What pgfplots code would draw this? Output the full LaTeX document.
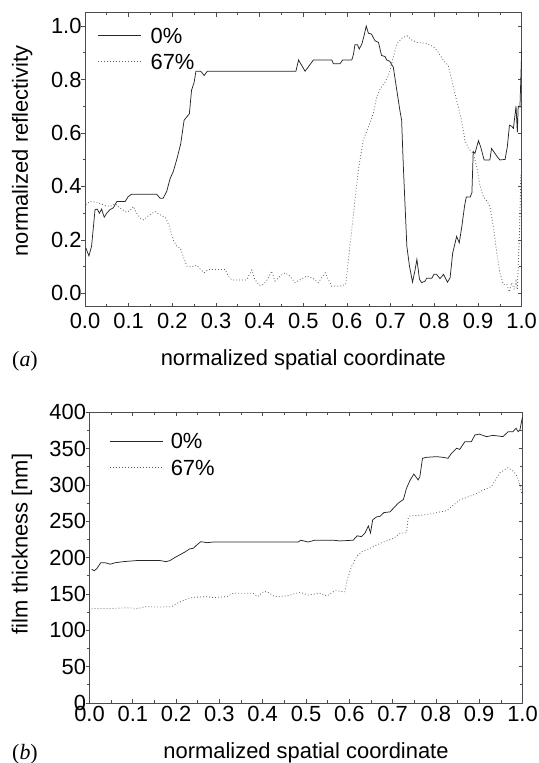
\documentclass[border=0pt]{standalone}
\usepackage{fontspec}
\setmainfont{Liberation Sans}
\newfontfamily\serifff{Liberation Serif}
\usepackage{pgfplots}
\pgfplotsset{compat=1.18}
\definecolor{axgray}{gray}{0.3}
\definecolor{dotgray}{gray}{0.35}
\newcommand{\bigf}{\fontsize{22}{26}\selectfont}
\pgfplotsset{
  myaxis/.style={
    scale only axis,
    xmin=0, xmax=1,
    xtick={0,0.1,...,1.0},
    minor x tick num=1,
    tick align=inside,
    xtick pos=both,
    ytick pos=right,
    yticklabel pos=left,
    axis line style={axgray, line width=0.8pt},
    every tick/.style={axgray, line width=0.7pt},
    major tick length=4bp,
    minor tick length=2.5bp,
    tick label style={font=\bigf},
    label style={font=\bigf},
    /pgf/number format/assume math mode=true,
    xticklabel={\pgfmathprintnumber[fixed,fixed zerofill,precision=1]{\tick}},
    legend style={draw=none, fill=none, font=\bigf, column sep=9bp, row sep=10bp,
      nodes={inner sep=0pt, text height=15.5bp, text depth=0bp}},
    legend cell align=left,
    legend image code/.code={\draw[##1] (0bp,0bp) -- (43bp,0bp);},
  },
  ovaxis/.style={
    scale only axis,
    xmin=0, xmax=1,
    xtick=\empty,
    ytick pos=left,
    tick align=outside,
    yticklabels={},
    axis line style={draw=none},
    every tick/.style={axgray, line width=0.7pt},
    major tick length=4bp,
    minor tick length=2.5bp,
  },
  solidl/.style={black!85, line width=0.75pt},
  dotl/.style={dotgray, line width=0.8pt, dash pattern=on 0.8bp off 2.2bp},
}
\begin{document}
\begin{tikzpicture}
\useasboundingbox (0,0) rectangle (539bp,763bp);
% ---------- top panel ----------
\begin{axis}[myaxis,
  at={(85bp,456.3bp)}, anchor=south west,
  width=436.7bp, height=294bp,
  ymin=-0.05, ymax=1.05,
  ytick={0,0.2,...,1.0}, minor y tick num=1,
  yticklabel={\pgfmathprintnumber[fixed,fixed zerofill,precision=1]{\tick}},
  xticklabel style={yshift=-3bp},
  xlabel={normalized spatial coordinate},
  ylabel={normalized reflectivity},
  xlabel style={at={(axis description cs:0.5,-0.18)}, anchor=center},
  ylabel style={at={(axis description cs:-0.144,0.53)}, anchor=center},
  legend style={at={(axis description cs:0.022,0.955)}, anchor=north west},
]
\addplot[solidl] coordinates {
(0.002,0.17) (0.009,0.14) (0.015,0.176) (0.023,0.313) (0.028,0.315) (0.033,0.30)
(0.038,0.315) (0.044,0.285) (0.05,0.30) (0.057,0.313) (0.065,0.32) (0.073,0.344)
(0.092,0.344) (0.099,0.362) (0.107,0.371) (0.164,0.371) (0.172,0.356) (0.179,0.356)
(0.187,0.381) (0.195,0.43) (0.202,0.455) (0.21,0.5) (0.219,0.558) (0.227,0.648)
(0.233,0.66) (0.239,0.672) (0.244,0.76) (0.25,0.79) (0.254,0.831) (0.265,0.831)
(0.273,0.815) (0.28,0.831) (0.483,0.831) (0.489,0.873) (0.504,0.831) (0.523,0.873)
(0.565,0.873) (0.569,0.859) (0.584,0.859) (0.59,0.873) (0.611,0.873) (0.615,0.896)
(0.618,0.93) (0.624,0.93) (0.628,0.914) (0.634,0.933) (0.639,0.964) (0.644,1.0)
(0.649,0.973) (0.656,0.97) (0.664,0.945) (0.672,0.939) (0.679,0.89) (0.687,0.886)
(0.691,0.873) (0.698,0.868) (0.706,0.846) (0.714,0.76) (0.721,0.685) (0.725,0.648)
(0.729,0.474) (0.737,0.176) (0.743,0.102) (0.75,0.042) (0.756,0.089) (0.76,0.127)
(0.766,0.052) (0.771,0.04) (0.779,0.046) (0.782,0.056) (0.794,0.056) (0.799,0.071)
(0.805,0.071) (0.813,0.055) (0.821,0.071) (0.83,0.042) (0.836,0.058) (0.842,0.151)
(0.851,0.213) (0.857,0.189) (0.863,0.251) (0.869,0.325) (0.873,0.36) (0.882,0.36)
(0.886,0.377) (0.889,0.53) (0.893,0.524) (0.901,0.571) (0.906,0.548) (0.914,0.499)
(0.927,0.499) (0.931,0.542) (0.944,0.511) (0.95,0.499) (0.962,0.501) (0.967,0.548)
(0.972,0.629) (0.977,0.625) (0.981,0.617) (0.987,0.70) (0.990,0.602) (0.992,0.70)
(0.996,0.697) (1.0,0.91)
};
\addlegendentry{0\%}
\addplot[dotl] coordinates {
(0.002,0.331) (0.011,0.344) (0.027,0.341) (0.042,0.331) (0.057,0.325) (0.069,0.335)
(0.08,0.319) (0.095,0.303) (0.103,0.31) (0.111,0.325) (0.118,0.30) (0.126,0.282)
(0.134,0.275) (0.145,0.29) (0.16,0.306) (0.172,0.294) (0.185,0.282) (0.193,0.251)
(0.202,0.201) (0.21,0.176) (0.218,0.17) (0.225,0.139) (0.233,0.102) (0.244,0.099)
(0.256,0.105) (0.263,0.092) (0.273,0.077) (0.282,0.089) (0.321,0.089) (0.328,0.065)
(0.336,0.05) (0.37,0.05) (0.382,0.087) (0.389,0.052) (0.399,0.03) (0.408,0.033)
(0.418,0.052) (0.427,0.083) (0.435,0.046) (0.447,0.065) (0.458,0.077) (0.469,0.065)
(0.481,0.04) (0.492,0.05) (0.508,0.065) (0.523,0.055) (0.534,0.04) (0.55,0.077)
(0.557,0.052) (0.565,0.027) (0.584,0.027) (0.597,0.033) (0.605,0.151) (0.615,0.30)
(0.626,0.462) (0.637,0.573) (0.649,0.623) (0.66,0.672) (0.668,0.734) (0.676,0.766)
(0.687,0.79) (0.695,0.815) (0.706,0.883) (0.714,0.933) (0.725,0.954) (0.737,0.964)
(0.748,0.948) (0.76,0.939) (0.782,0.935) (0.798,0.923) (0.809,0.902) (0.821,0.871)
(0.832,0.852) (0.84,0.797) (0.847,0.747) (0.855,0.697) (0.863,0.641) (0.87,0.573)
(0.878,0.542) (0.889,0.524) (0.897,0.474) (0.905,0.40) (0.912,0.362) (0.921,0.344)
(0.927,0.325) (0.935,0.251) (0.943,0.151) (0.95,0.077) (0.958,0.033) (0.966,0.033)
(0.972,0.005) (0.977,0.04) (0.983,0.015) (0.987,0.046) (0.99,0.015) (0.995,0.226)
(0.998,0.443) (1.0,0.418)
};
\addlegendentry{67\%}
\end{axis}
\begin{axis}[ovaxis,
  at={(85bp,456.3bp)}, anchor=south west,
  width=436.7bp, height=294bp,
  ymin=-0.05, ymax=1.05,
  ytick={0,0.2,...,1.0}, minor y tick num=1,
]
\end{axis}
% ---------- bottom panel ----------
\begin{axis}[myaxis,
  at={(89.5bp,60bp)}, anchor=south west,
  width=433bp, height=290.7bp,
  ymin=0, ymax=400,
  ytick={0,50,...,400}, minor y tick num=1,
  yticklabel={\pgfmathprintnumber[fixed,precision=0]{\tick}},
  xlabel={normalized spatial coordinate},
  ylabel={film thickness [nm]},
  xlabel style={at={(axis description cs:0.5,-0.172)}, anchor=center},
  ylabel style={at={(axis description cs:-0.156,0.547)}, anchor=center},
  legend style={at={(axis description cs:0.04,0.935)}, anchor=north west, row sep=11bp},
  legend image code/.code={\draw[#1] (0bp,0bp) -- (53bp,0bp);},
  legend style={column sep=7bp},
]
\addplot[solidl] coordinates {
(0.005,184) (0.011,182) (0.017,185) (0.026,193) (0.036,193) (0.048,191) (0.059,193)
(0.078,194.5) (0.109,196) (0.163,196) (0.177,194.5) (0.186,196) (0.198,200.5)
(0.209,204) (0.221,208) (0.231,212) (0.24,213) (0.248,217.5) (0.257,222)
(0.271,220.6) (0.286,221.5) (0.482,221.5) (0.488,224) (0.505,221.5) (0.52,224)
(0.563,224) (0.578,223) (0.609,224) (0.618,230) (0.628,229) (0.636,233.5)
(0.644,243.6) (0.649,234) (0.654,252) (0.663,256) (0.671,257) (0.68,262)
(0.694,263) (0.702,268) (0.713,275) (0.725,280) (0.732,295.4) (0.74,306)
(0.749,315) (0.759,307) (0.763,311.5) (0.769,336.7) (0.778,338) (0.802,339)
(0.817,338) (0.828,336.7) (0.836,343.6) (0.848,350.5) (0.855,349) (0.867,359.6)
(0.882,359.6) (0.89,368.8) (0.9,370) (0.917,366.5) (0.932,368.3) (0.955,366.5)
(0.967,373.4) (0.978,373.4) (0.985,378) (0.99,373.4) (0.994,375.7) (1.0,394)
};
\addlegendentry{0\%}
\addplot[dotl] coordinates {
(0.005,129.8) (0.048,130) (0.086,131) (0.113,130) (0.128,132.6) (0.163,132)
(0.19,132.6) (0.205,138) (0.228,144) (0.24,145.4) (0.271,146.3) (0.286,145)
(0.317,146.3) (0.332,151) (0.378,151) (0.388,146.3) (0.403,153.7) (0.413,152)
(0.428,146.3) (0.455,147.2) (0.486,152.3) (0.505,148.6) (0.532,151) (0.548,147.2)
(0.567,154.6) (0.59,153) (0.595,169.3) (0.605,187.6) (0.617,201.4) (0.628,208)
(0.648,212.8) (0.671,219.7) (0.702,226.6) (0.717,233.5) (0.732,234.4) (0.736,254)
(0.74,257.3) (0.771,258.7) (0.794,261) (0.825,264.7) (0.855,279.4) (0.886,286.2)
(0.909,293) (0.928,297.7) (0.948,317) (0.967,323.9) (0.98,318.3) (0.988,311.5)
(0.994,300) (0.998,288.5)
};
\addlegendentry{67\%}
\end{axis}
\begin{axis}[ovaxis,
  at={(89.5bp,60bp)}, anchor=south west,
  width=433bp, height=290.7bp,
  ymin=0, ymax=400,
  ytick={0,50,...,400}, minor y tick num=1,
]
\end{axis}
\node[font=\serifff\fontsize{22}{26}\selectfont, anchor=center] at (25bp,402bp) {(\textit{a})};
\node[font=\serifff\fontsize{22}{26}\selectfont, anchor=center] at (25bp,9bp) {(\textit{b})};
\end{tikzpicture}
\end{document}
